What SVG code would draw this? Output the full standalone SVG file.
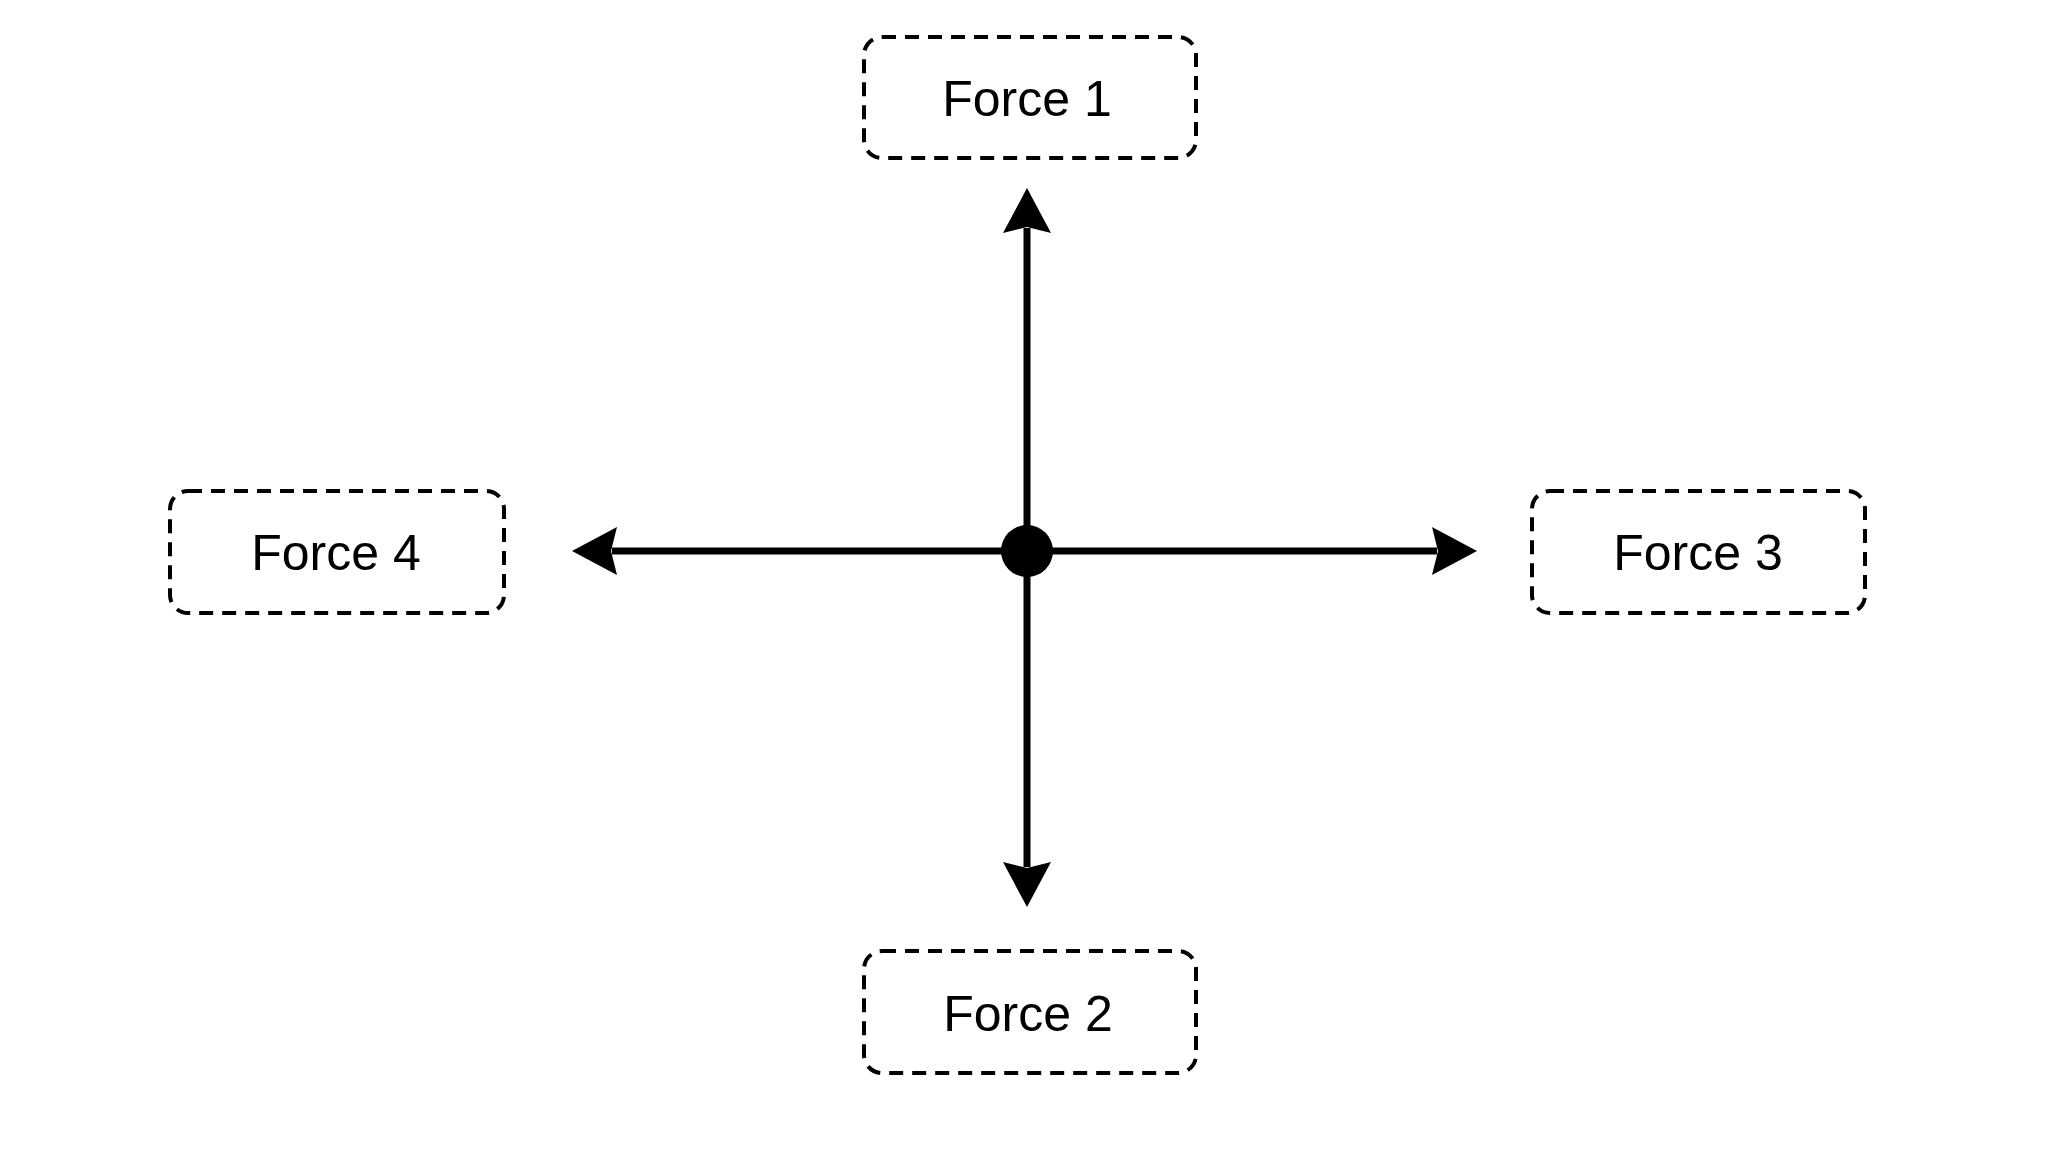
<svg xmlns="http://www.w3.org/2000/svg" width="2048" height="1152" viewBox="0 0 2048 1152">
<style>
.box{fill:none;stroke:#000;stroke-width:4;stroke-dasharray:14 9}
.lbl{font-family:"Liberation Sans",Arial,sans-serif;font-size:50px;fill:#000;text-anchor:middle}
.conn{stroke:#000;stroke-width:7;fill:none}
</style>
<defs>
<marker id="arr" viewBox="-6 -25 48 50" refX="0" refY="0" markerWidth="48" markerHeight="50" markerUnits="userSpaceOnUse" orient="auto">
<path d="M40,0 L-5,-24 L1,0 L-5,24 Z" fill="#000"/>
</marker>
</defs>
<rect width="2048" height="1152" fill="#fff"/>
<g id="connectors">
<line class="conn" x1="1027" y1="551" x2="1027" y2="228" marker-end="url(#arr)"/>
<line class="conn" x1="1027" y1="551" x2="1027" y2="867" marker-end="url(#arr)"/>
<line class="conn" x1="1027" y1="551" x2="612" y2="551" marker-end="url(#arr)"/>
<line class="conn" x1="1027" y1="551" x2="1437" y2="551" marker-end="url(#arr)"/>
</g>
<g id="center"><circle cx="1027" cy="551" r="26" fill="#000"/></g>
<g id="force1"><rect class="box" x="864" y="37" width="332" height="121" rx="18"/><text class="lbl" x="1027" y="116">Force 1</text></g>
<g id="force2"><rect class="box" x="864" y="951" width="332" height="122" rx="18"/><text class="lbl" x="1028" y="1031">Force 2</text></g>
<g id="force3"><rect class="box" x="1532" y="491" width="333" height="122" rx="18"/><text class="lbl" x="1698" y="570">Force 3</text></g>
<g id="force4"><rect class="box" x="170" y="491" width="334" height="122" rx="18"/><text class="lbl" x="336" y="570">Force 4</text></g>
</svg>
